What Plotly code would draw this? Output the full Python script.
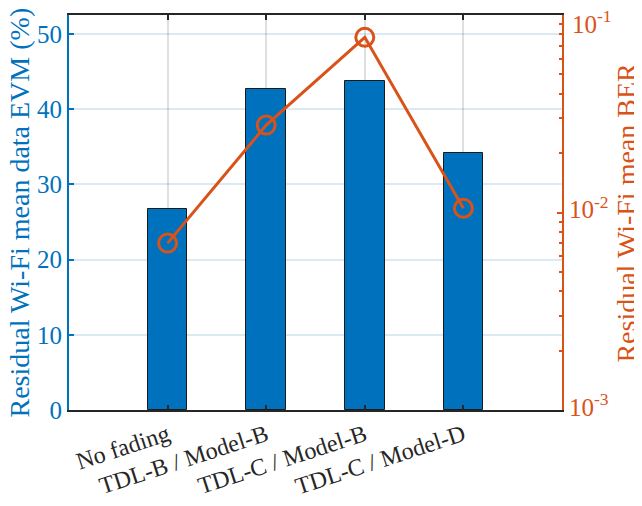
import plotly.graph_objects as go

categories = ["No fading", "TDL-B / Model-B", "TDL-C / Model-B", "TDL-C / Model-D"]
evm_percent = [26.7, 42.7, 43.7, 34.2]
ber_values = [0.0070, 0.0277, 0.0771, 0.0105]
x_pos = [1, 2, 3, 4]
evm_ticks = [0, 10, 20, 30, 40, 50]
ber_ticks = [0.001, 0.01, 0.1]
ber_ticktext = ["10<sup>-3</sup>", "10<sup>-2</sup>", ""]
ber_top_label = "10<sup>-1</sup>"
left_title = "Residual Wi-Fi mean data EVM (%)"
right_title = "Residual Wi-Fi mean BER"

BLUE = "#0072BD"
ORANGE = "#D95319"
DARK = "#262626"
FONT = "Liberation Serif, Times New Roman, serif"
TICK = 25
XTICK = 24
TITLE = 28

fig = go.Figure()
fig.add_trace(go.Bar(
    x=x_pos, y=evm_percent, width=0.4,
    marker=dict(color=BLUE, line=dict(color="#1a1a1a", width=1)),
    yaxis="y", showlegend=False,
))
fig.add_trace(go.Scatter(
    x=x_pos, y=ber_values, mode="lines+markers",
    line=dict(color=ORANGE, width=3),
    marker=dict(symbol="circle-open", size=18, color=ORANGE, line=dict(width=3, color=ORANGE)),
    yaxis="y2", showlegend=False,
))

fig.update_layout(
    width=634, height=490,
    margin=dict(l=61, r=80, t=7, b=88),
    plot_bgcolor="white", paper_bgcolor="white",
    font=dict(family=FONT, size=TICK, color=DARK),
    xaxis=dict(
        range=[0, 5], tickvals=x_pos, ticktext=categories, tickangle=-18,
        showgrid=True, gridcolor="rgba(38,38,38,0.15)", gridwidth=1.5,
        showline=True, linecolor=DARK, linewidth=1.5, mirror="ticks",
        ticks="inside", ticklen=5, tickcolor=DARK, tickwidth=1.5,
        tickfont=dict(family=FONT, size=XTICK, color=DARK), zeroline=False,
        automargin=False,
    ),
    yaxis=dict(
        range=[0, 52.5], tickvals=evm_ticks,
        showgrid=True, gridcolor="rgba(0,114,189,0.15)", gridwidth=1.5,
        showline=True, linecolor=BLUE, linewidth=2,
        ticks="inside", ticklen=5, tickcolor=BLUE, tickwidth=1.5,
        tickfont=dict(family=FONT, size=TICK, color=BLUE), zeroline=False,
        automargin=False,
    ),
    yaxis2=dict(
        type="log", range=[-3.0001, -0.9999], overlaying="y", side="right",
        tickmode="array", tickvals=ber_ticks, ticktext=ber_ticktext,
        showgrid=False, showline=True, linecolor=ORANGE, linewidth=2,
        ticks="inside", ticklen=5, tickcolor=ORANGE, tickwidth=1.5,
        ticklabelshift=-3,
        minor=dict(tickmode="linear", dtick="D1", ticks="inside", ticklen=3,
                   tickcolor=ORANGE, tickwidth=1.5, showgrid=False),
        tickfont=dict(family=FONT, size=TICK, color=ORANGE), zeroline=False,
        automargin=False,
    ),
    bargap=0,
    annotations=[
        dict(text=left_title, xref="paper", yref="paper", x=-0.0994, y=0.5,
             xanchor="center", yanchor="middle", textangle=-90, showarrow=False,
             font=dict(family=FONT, size=TITLE, color=BLUE)),
        dict(text=right_title, xref="paper", yref="paper", x=1.130, y=0.5,
             xanchor="center", yanchor="middle", textangle=-90, showarrow=False,
             font=dict(family=FONT, size=TITLE, color=ORANGE)),
        dict(text=ber_top_label, xref="paper", yref="paper", x=1.016, y=0.982,
             xanchor="left", yanchor="middle", showarrow=False,
             font=dict(family=FONT, size=TICK, color=ORANGE)),
    ],
)

fig.write_html("out.html")
